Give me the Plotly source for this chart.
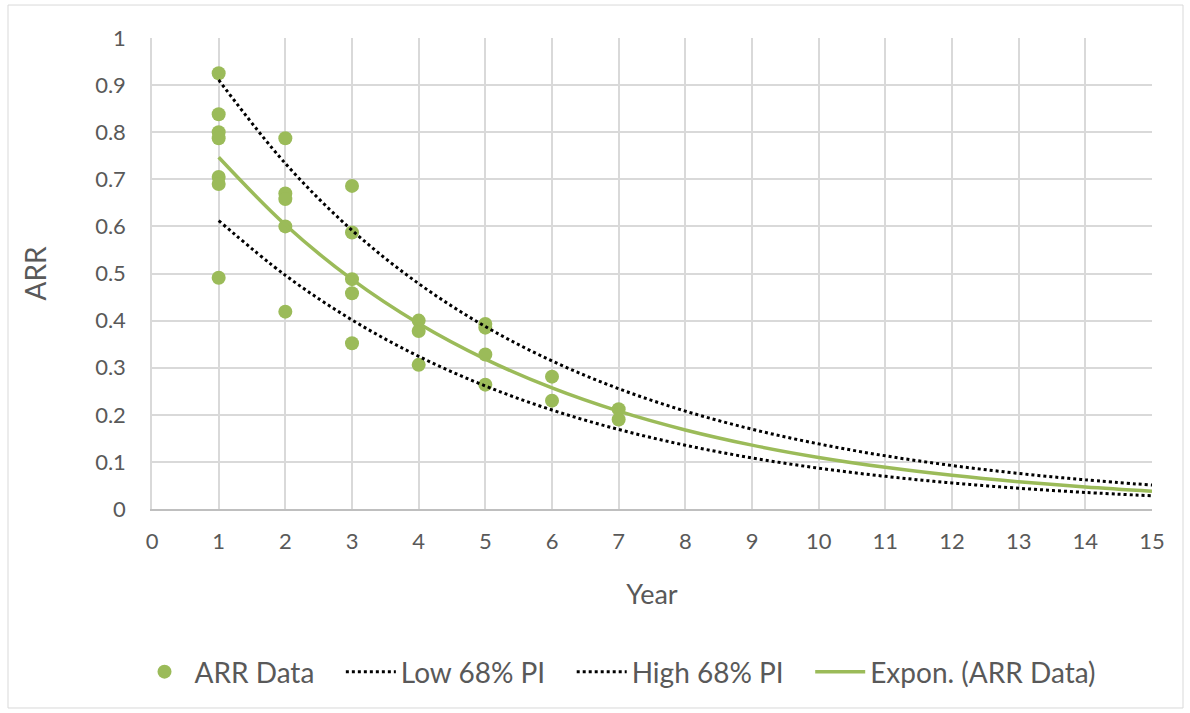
import numpy as np
import plotly.graph_objects as go

# ---- data ----
years = [1, 1, 1, 1, 1, 1, 1,
         2, 2, 2, 2, 2,
         3, 3, 3, 3, 3,
         4, 4, 4,
         5, 5, 5, 5,
         6, 6,
         7, 7]
arr = [0.925, 0.838, 0.800, 0.787, 0.705, 0.690, 0.491,
       0.787, 0.670, 0.658, 0.600, 0.419,
       0.686, 0.587, 0.488, 0.458, 0.352,
       0.400, 0.378, 0.306,
       0.393, 0.385, 0.328, 0.264,
       0.281, 0.230,
       0.212, 0.190]
curve_years = list(range(1, 16))
x_ticks = list(range(0, 16))
y_ticks = [0, 0.1, 0.2, 0.3, 0.4, 0.5, 0.6, 0.7, 0.8, 0.9, 1]
y_tick_text = ["0", "0.1", "0.2", "0.3", "0.4", "0.5", "0.6", "0.7", "0.8", "0.9", "1"]

# ---- exponential trendline and 68% prediction interval (log-space regression) ----
x = np.array(years, dtype=float)
ly = np.log(np.array(arr))
n = len(x)
b, lna = np.polyfit(x, ly, 1)
resid = ly - (lna + b * x)
s = np.sqrt(np.sum(resid ** 2) / (n - 2))
xbar = x.mean()
sxx = np.sum((x - xbar) ** 2)
xc = np.array(curve_years, dtype=float)
fit_log = lna + b * xc
half = s * np.sqrt(1 + 1 / n + (xc - xbar) ** 2 / sxx)
trend = np.exp(fit_log)
low = np.exp(fit_log - half)
high = np.exp(fit_log + half)

GREEN = "#9BBB59"
FONT = "Lato, Carlito, Calibri, sans-serif"
TXT = "#595959"
PAD = "\u00a0" * 3

fig = go.Figure()
fig.add_trace(go.Scatter(x=years, y=arr, mode="markers", name="ARR Data" + PAD,
                         marker=dict(color=GREEN, size=14)))
fig.add_trace(go.Scatter(x=curve_years, y=low, mode="lines", name="Low 68% PI" + PAD,
                         line=dict(color="black", width=3, dash="dot", shape="spline")))
fig.add_trace(go.Scatter(x=curve_years, y=high, mode="lines", name="High 68% PI" + PAD,
                         line=dict(color="black", width=3, dash="dot", shape="spline")))
fig.add_trace(go.Scatter(x=curve_years, y=trend, mode="lines", name="Expon. (ARR Data)",
                         line=dict(color=GREEN, width=3.5, shape="spline")))

fig.update_layout(
    width=1190, height=713,
    margin=dict(l=152, r=38, t=38, b=204),
    paper_bgcolor="white", plot_bgcolor="white",
    font=dict(family=FONT, size=22, color=TXT),
    showlegend=True,
    legend=dict(orientation="h", x=0.466, xanchor="center", y=-0.346, yanchor="middle",
                font=dict(family=FONT, size=28, color=TXT), itemwidth=50),
    shapes=[dict(type="rect", xref="paper", yref="paper",
                 x0=-0.144, x1=1.031, y0=-0.4225, y1=1.07,
                 line=dict(color="#d9d9d9", width=1), layer="below")],
)
fig.update_xaxes(range=[0, 15], tickvals=x_ticks, showgrid=True, gridcolor="#d9d9d9", gridwidth=1.5,
                 zeroline=False, showline=True, linecolor="#bfbfbf", linewidth=1.5,
                 ticks="outside", ticklen=12, tickcolor="rgba(0,0,0,0)",
                 tickfont=dict(family=FONT, size=22, color=TXT),
                 title=dict(text="Year", font=dict(family=FONT, size=27, color=TXT), standoff=32))
fig.update_yaxes(range=[0, 1], tickvals=y_ticks, ticktext=y_tick_text, showgrid=True,
                 gridcolor="#d9d9d9", gridwidth=1.5, zeroline=False, showline=True,
                 linecolor="#d9d9d9", linewidth=1.5,
                 ticks="outside", ticklen=20, tickcolor="rgba(0,0,0,0)",
                 tickfont=dict(family=FONT, size=22, color=TXT),
                 title=dict(text="ARR", font=dict(family=FONT, size=28, color=TXT), standoff=40))

fig.write_html("out.html")
